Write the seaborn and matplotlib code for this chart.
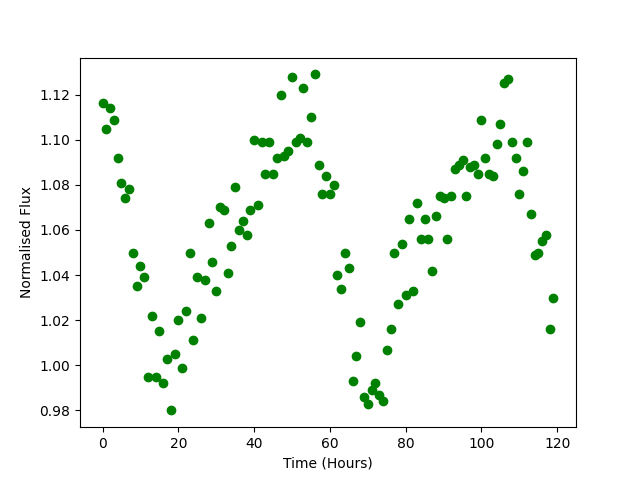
import matplotlib
matplotlib.use("Agg")
import matplotlib.pyplot as plt
import seaborn as sns
import pandas as pd

# hourly normalised flux readings
hours = list(range(120))
flux = [
    1.1165, 1.105, 1.114, 1.109, 1.092, 1.081, 1.074, 1.078, 1.050, 1.035,
    1.044, 1.039, 0.995, 1.022, 0.995, 1.015, 0.992, 1.003, 0.980, 1.005,
    1.020, 0.999, 1.024, 1.050, 1.011, 1.039, 1.021, 1.038, 1.063, 1.046,
    1.033, 1.070, 1.069, 1.041, 1.053, 1.079, 1.060, 1.064, 1.058, 1.069,
    1.100, 1.071, 1.099, 1.085, 1.099, 1.085, 1.092, 1.120, 1.093, 1.095,
    1.128, 1.099, 1.101, 1.123, 1.099, 1.110, 1.129, 1.089, 1.076, 1.084,
    1.076, 1.080, 1.040, 1.034, 1.050, 1.043, 0.993, 1.004, 1.019, 0.986,
    0.983, 0.989, 0.992, 0.987, 0.984, 1.007, 1.016, 1.050, 1.027, 1.054,
    1.031, 1.065, 1.033, 1.072, 1.056, 1.065, 1.056, 1.042, 1.066, 1.075,
    1.074, 1.056, 1.075, 1.087, 1.089, 1.091, 1.075, 1.088, 1.089, 1.085,
    1.109, 1.092, 1.085, 1.084, 1.098, 1.107, 1.125, 1.127, 1.099, 1.092,
    1.076, 1.086, 1.099, 1.067, 1.049, 1.050, 1.055, 1.058, 1.016, 1.030,
]

df = pd.DataFrame({"Time (Hours)": hours, "Normalised Flux": flux})

plt.figure(figsize=(6.4, 4.8), dpi=100)
sns.scatterplot(x="Time (Hours)", y="Normalised Flux", data=df,
                color="green", s=36, edgecolor="green", linewidth=1)
plt.xlabel("Time (Hours)")
plt.ylabel("Normalised Flux")
plt.savefig("out.png", dpi=100)
plt.close()
